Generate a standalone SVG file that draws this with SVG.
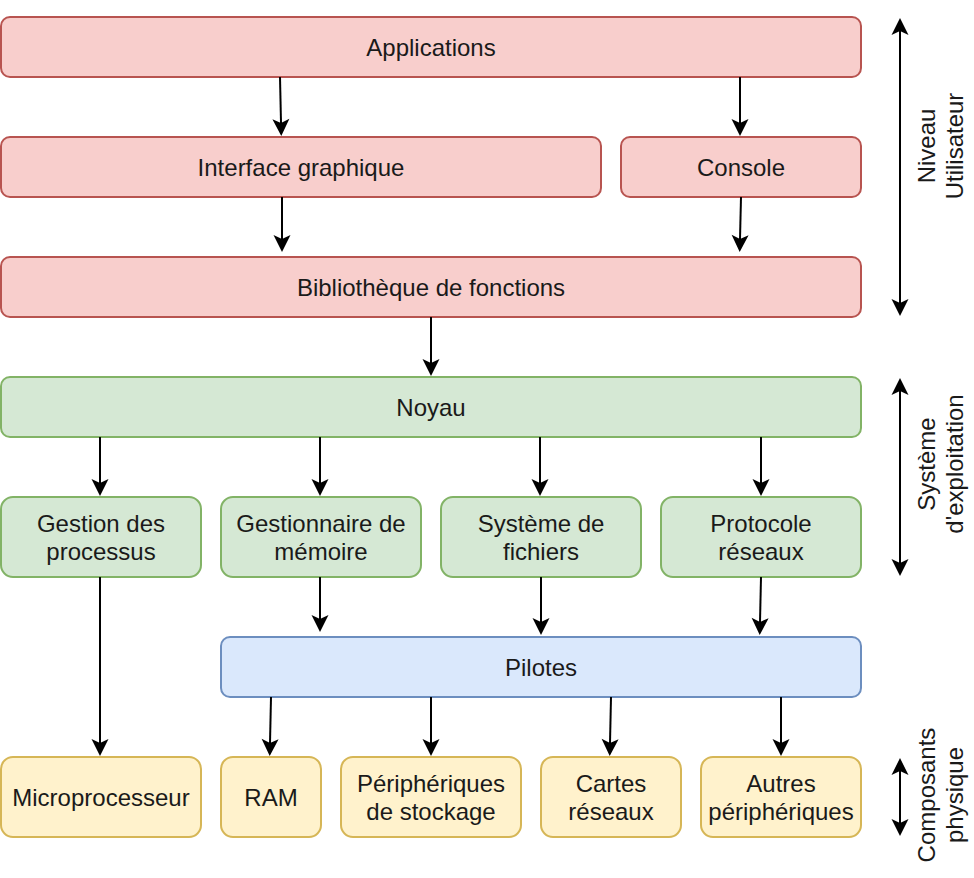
<svg xmlns="http://www.w3.org/2000/svg" width="974" height="878" viewBox="0 0 974 878">
<style>
.t{font-family:"Liberation Sans",Arial,Helvetica,sans-serif;font-size:24px;fill:#1a1a1a;text-anchor:middle}
.r rect{fill:#f8cecc;stroke:#b85450;stroke-width:2}
.g rect{fill:#d5e8d4;stroke:#82b366;stroke-width:2}
.b rect{fill:#dae8fc;stroke:#6c8ebf;stroke-width:2}
.y rect{fill:#fff2cc;stroke:#d6b656;stroke-width:2}
.c line{stroke:#000;stroke-width:2;fill:none;marker-end:url(#ah)}
.c line.d{marker-start:url(#ahs)}
</style>
<defs>
<marker id="ah" markerUnits="userSpaceOnUse" markerWidth="20" markerHeight="20" viewBox="-5 -10 20 20" refX="0" refY="0" orient="auto">
<path d="M13,0 L-4,-8.5 L0,0 L-4,8.5 Z" fill="#000"/>
</marker>
<marker id="ahs" markerUnits="userSpaceOnUse" markerWidth="20" markerHeight="20" viewBox="-5 -10 20 20" refX="0" refY="0" orient="auto-start-reverse">
<path d="M13,0 L-4,-8.5 L0,0 L-4,8.5 Z" fill="#000"/>
</marker>
</defs>
<rect width="974" height="878" fill="#fff"/>

<g id="applications" class="r"><rect x="1" y="17" width="860" height="60" rx="9"/><text class="t" x="431" y="55.5">Applications</text></g>
<g id="interface" class="r"><rect x="1" y="137" width="600" height="60" rx="9"/><text class="t" x="301" y="175.5">Interface graphique</text></g>
<g id="console" class="r"><rect x="621" y="137" width="240" height="60" rx="9"/><text class="t" x="741" y="175.5">Console</text></g>
<g id="bibliotheque" class="r"><rect x="1" y="257" width="860" height="60" rx="9"/><text class="t" x="431" y="295.5">Bibliothèque de fonctions</text></g>

<g id="noyau" class="g"><rect x="1" y="377" width="860" height="60" rx="9"/><text class="t" x="431" y="415.5">Noyau</text></g>
<g id="gestion" class="g"><rect x="1" y="497" width="200" height="80" rx="12"/><text class="t" x="101" y="531.5">Gestion des</text><text class="t" x="101" y="559.5">processus</text></g>
<g id="memoire" class="g"><rect x="221" y="497" width="200" height="80" rx="12"/><text class="t" x="321" y="531.5">Gestionnaire de</text><text class="t" x="321" y="559.5">mémoire</text></g>
<g id="fichiers" class="g"><rect x="441" y="497" width="200" height="80" rx="12"/><text class="t" x="541" y="531.5">Système de</text><text class="t" x="541" y="559.5">fichiers</text></g>
<g id="reseaux" class="g"><rect x="661" y="497" width="200" height="80" rx="12"/><text class="t" x="761" y="531.5">Protocole</text><text class="t" x="761" y="559.5">réseaux</text></g>

<g id="pilotes" class="b"><rect x="221" y="637" width="640" height="60" rx="9"/><text class="t" x="541" y="675.5">Pilotes</text></g>

<g id="microprocesseur" class="y"><rect x="1" y="757" width="200" height="80" rx="12"/><text class="t" x="101" y="805.5">Microprocesseur</text></g>
<g id="ram" class="y"><rect x="221" y="757" width="100" height="80" rx="12"/><text class="t" x="271" y="805.5">RAM</text></g>
<g id="stockage" class="y"><rect x="341" y="757" width="180" height="80" rx="12"/><text class="t" x="431" y="791.5">Périphériques</text><text class="t" x="431" y="819.5">de stockage</text></g>
<g id="cartes" class="y"><rect x="541" y="757" width="140" height="80" rx="12"/><text class="t" x="611" y="791.5">Cartes</text><text class="t" x="611" y="819.5">réseaux</text></g>
<g id="autres" class="y"><rect x="701" y="757" width="160" height="80" rx="12"/><text class="t" x="781" y="791.5">Autres</text><text class="t" x="781" y="819.5">périphériques</text></g>

<g id="label-utilisateur"><text class="t" transform="rotate(-90 941 146)"><tspan x="941" y="140">Niveau</tspan><tspan x="941" y="168">Utilisateur</tspan></text></g>
<g id="label-systeme"><text class="t" transform="rotate(-90 941 464)"><tspan x="941" y="458">Système</tspan><tspan x="941" y="486">d'exploitation</tspan></text></g>
<g id="label-composants"><text class="t" transform="rotate(-90 941 795)"><tspan x="941" y="789">Composants</tspan><tspan x="941" y="817">physique</tspan></text></g>

<g id="connectors" class="c">
<line x1="280" y1="77" x2="281" y2="123"/>
<line x1="740" y1="77" x2="740" y2="123"/>
<line x1="282" y1="197" x2="282" y2="239"/>
<line x1="741" y1="197" x2="740" y2="239"/>
<line x1="431" y1="317" x2="431" y2="363"/>
<line x1="100" y1="437" x2="100" y2="483"/>
<line x1="320" y1="437" x2="320" y2="483"/>
<line x1="540" y1="437" x2="540" y2="483"/>
<line x1="761" y1="437" x2="761" y2="483"/>
<line x1="100" y1="577" x2="100" y2="743"/>
<line x1="320" y1="577" x2="320" y2="619"/>
<line x1="541" y1="577" x2="541" y2="622"/>
<line x1="761" y1="577" x2="760" y2="622"/>
<line x1="271" y1="697" x2="270" y2="743"/>
<line x1="431" y1="697" x2="431" y2="743"/>
<line x1="611" y1="697" x2="610" y2="743"/>
<line x1="781" y1="697" x2="781" y2="743"/>
<line class="d" x1="900" y1="31" x2="900" y2="303"/>
<line class="d" x1="900" y1="391" x2="900" y2="563"/>
<line class="d" x1="900" y1="771" x2="900" y2="823"/>
</g>
</svg>
